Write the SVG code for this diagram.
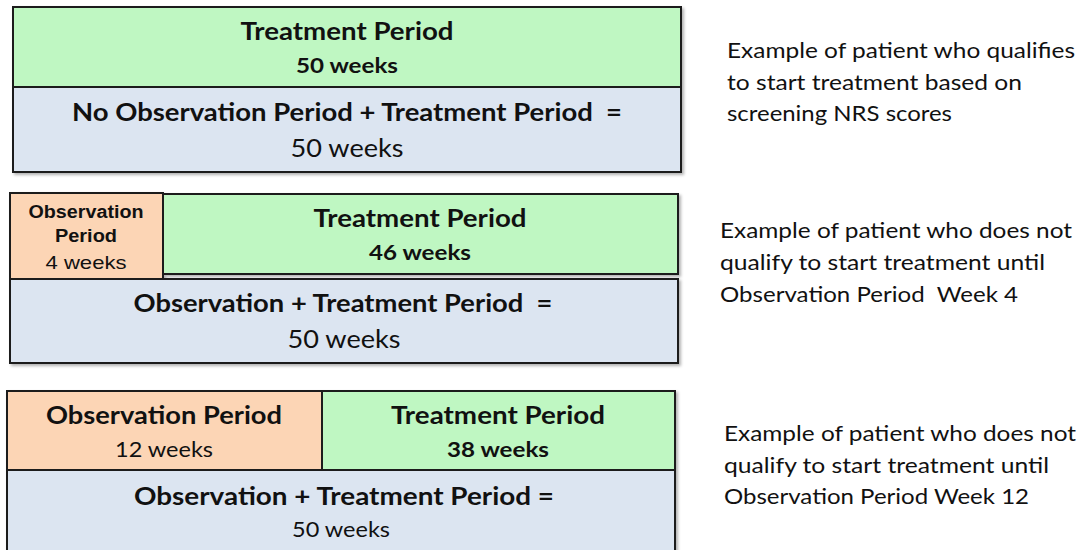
<svg xmlns="http://www.w3.org/2000/svg" width="1080" height="550" viewBox="0 0 1080 550">
  <defs>
    <filter id="shadow" x="-5%" y="-5%" width="110%" height="115%">
      <feDropShadow dx="2" dy="2" stdDeviation="1.5" flood-color="#000" flood-opacity="0.3"/>
    </filter>
    <style>
      .box { stroke: #1e1e1e; stroke-width: 2; }
      .treat { fill: #bff7c2; }
      .total { fill: #dce5f1; }
      .obs { fill: #fcd5b5; }
      text { white-space: pre; }
      .t { font-family: Lato, "Open Sans", sans-serif; fill: #111; text-anchor: middle; }
      .b { font-weight: bold; }
      .a { font-family: "Liberation Sans", Arial, sans-serif; fill: #111; text-anchor: middle; }
      .note { font-family: Lato, "Open Sans", sans-serif; font-size: 22px; fill: #111; }
    </style>
  </defs>
  <rect width="1080" height="550" fill="#ffffff"/>

  <!-- Case 1: treatment starts immediately -->
  <g id="case1" filter="url(#shadow)">
    <rect class="box treat" x="13" y="7" width="668" height="80"/>
    <rect class="box total" x="13" y="87" width="668" height="85"/>
  </g>
  <g id="case1-text">
    <text class="t b" x="347" y="40" font-size="25" textLength="213" lengthAdjust="spacingAndGlyphs">Treatment Period</text>
    <text class="t b" x="347" y="73" font-size="21" textLength="102" lengthAdjust="spacingAndGlyphs">50 weeks</text>
    <text class="t b" x="347" y="121" font-size="25" textLength="550" lengthAdjust="spacingAndGlyphs" xml:space="preserve">No Observation Period + Treatment Period  =</text>
    <text class="t" x="347" y="157" font-size="25" textLength="113" lengthAdjust="spacingAndGlyphs">50 weeks</text>
  </g>

  <!-- Case 2: 4-week observation period -->
  <g id="case2" filter="url(#shadow)">
    <rect class="box treat" x="163" y="194" width="515" height="80"/>
    <rect class="box obs" x="10" y="193" width="153" height="86"/>
    <rect class="box total" x="10" y="279" width="668" height="84"/>
  </g>
  <g id="case2-text">
    <text class="a b" x="86" y="218" font-size="18" textLength="115" lengthAdjust="spacingAndGlyphs">Observation</text>
    <text class="a b" x="86" y="242" font-size="18" textLength="62" lengthAdjust="spacingAndGlyphs">Period</text>
    <text class="a" x="86" y="269" font-size="19" textLength="81" lengthAdjust="spacingAndGlyphs">4 weeks</text>
    <text class="t b" x="420" y="227" font-size="25" textLength="213" lengthAdjust="spacingAndGlyphs">Treatment Period</text>
    <text class="t b" x="420" y="260" font-size="21" textLength="102" lengthAdjust="spacingAndGlyphs">46 weeks</text>
    <text class="t b" x="343" y="312" font-size="25" textLength="419" lengthAdjust="spacingAndGlyphs" xml:space="preserve">Observation + Treatment Period  =</text>
    <text class="t" x="344" y="348" font-size="25" textLength="113" lengthAdjust="spacingAndGlyphs">50 weeks</text>
  </g>

  <!-- Case 3: 12-week observation period -->
  <g id="case3" filter="url(#shadow)">
    <rect class="box obs" x="7" y="391" width="315" height="79"/>
    <rect class="box treat" x="322" y="391" width="353" height="79"/>
    <rect class="box total" x="7" y="470" width="668" height="90"/>
  </g>
  <g id="case3-text">
    <text class="t b" x="164" y="424" font-size="25" textLength="236" lengthAdjust="spacingAndGlyphs">Observation Period</text>
    <text class="t" x="164" y="457" font-size="21" textLength="98" lengthAdjust="spacingAndGlyphs">12 weeks</text>
    <text class="t b" x="498" y="424" font-size="25" textLength="214" lengthAdjust="spacingAndGlyphs">Treatment Period</text>
    <text class="t b" x="498" y="457" font-size="21" textLength="102" lengthAdjust="spacingAndGlyphs">38 weeks</text>
    <text class="t b" x="344" y="505" font-size="25" textLength="420" lengthAdjust="spacingAndGlyphs">Observation + Treatment Period =</text>
    <text class="t" x="341" y="537" font-size="21" textLength="98" lengthAdjust="spacingAndGlyphs">50 weeks</text>
  </g>

  <!-- Side notes -->
  <g id="note1">
    <text class="note" x="727" y="58" textLength="348" lengthAdjust="spacingAndGlyphs">Example of patient who qualifies</text>
    <text class="note" x="727" y="90" textLength="295" lengthAdjust="spacingAndGlyphs">to start treatment based on</text>
    <text class="note" x="727" y="121" textLength="225" lengthAdjust="spacingAndGlyphs">screening NRS scores</text>
  </g>
  <g id="note2">
    <text class="note" x="720" y="238" textLength="352" lengthAdjust="spacingAndGlyphs">Example of patient who does not</text>
    <text class="note" x="720" y="270" textLength="325" lengthAdjust="spacingAndGlyphs">qualify to start treatment until</text>
    <text class="note" x="720" y="302" textLength="298" lengthAdjust="spacingAndGlyphs" xml:space="preserve">Observation Period  Week 4</text>
  </g>
  <g id="note3">
    <text class="note" x="724" y="441" textLength="352" lengthAdjust="spacingAndGlyphs">Example of patient who does not</text>
    <text class="note" x="724" y="473" textLength="325" lengthAdjust="spacingAndGlyphs">qualify to start treatment until</text>
    <text class="note" x="724" y="504" textLength="305" lengthAdjust="spacingAndGlyphs">Observation Period Week 12</text>
  </g>
</svg>
